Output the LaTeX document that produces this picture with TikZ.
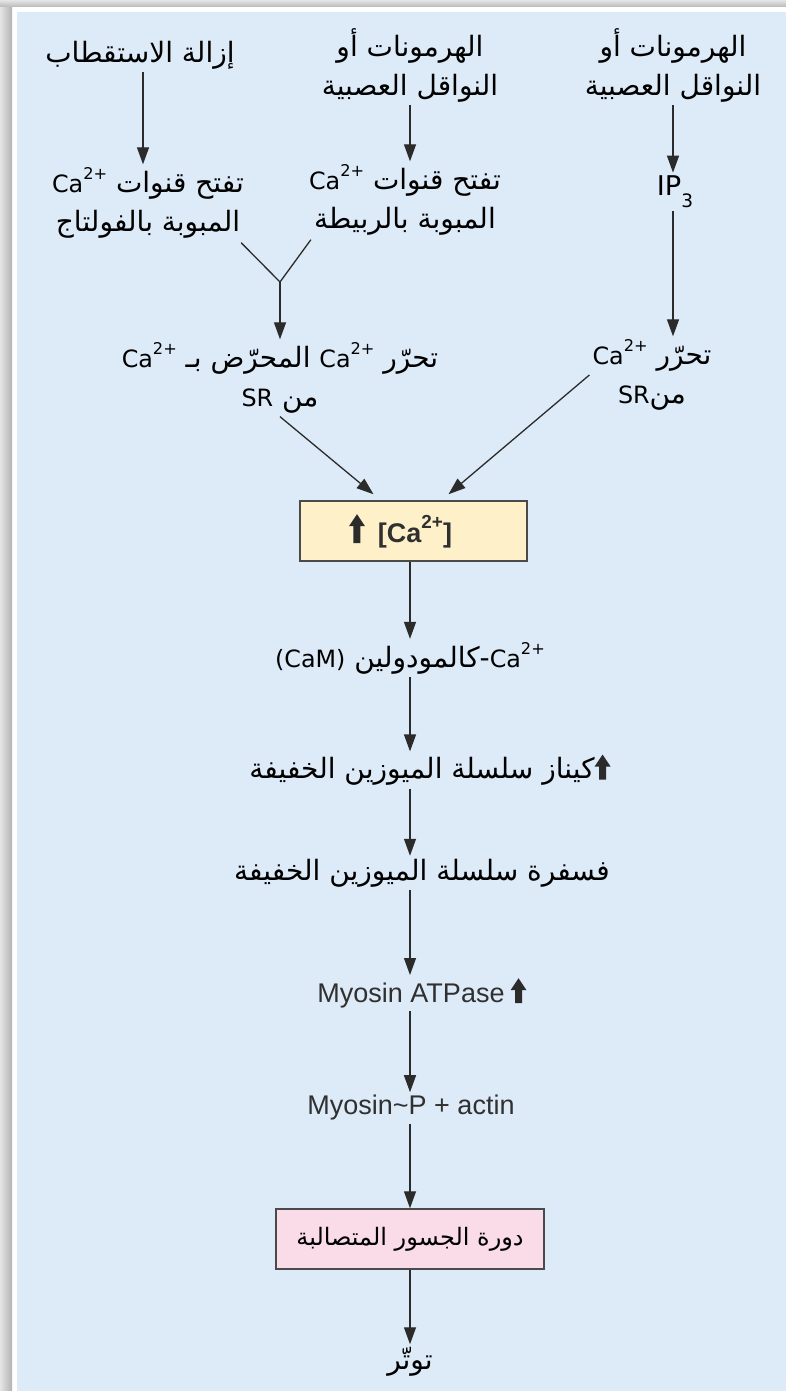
\documentclass[tikz,border=0pt]{standalone}
\usepackage{fontspec}
\usepackage{graphicx}
\setmainfont{Liberation Sans}
\newfontfamily\arabicfont[Script=Arabic]{DejaVu Sans}
\newfontfamily\latinfont[Scale=0.85]{DejaVu Sans}
\TeXXeTstate=1
\usetikzlibrary{arrows.meta,calc}

\definecolor{bgblue}{HTML}{DDEAF7}
\definecolor{ybox}{HTML}{FEF0C8}
\definecolor{pbox}{HTML}{F9DCE8}
\definecolor{edge}{HTML}{4A4A4A}
\definecolor{ink}{HTML}{2B2B2B}
\definecolor{latink}{HTML}{303030}

% thick upward arrow glyph
\newcommand\upa[1]{\tikz[baseline=0pt,x=1pt,y=1pt]\fill[ink]
  (-3.5,-1)--(3.5,-1)--(3.5,#1-12)--(8,#1-12)--(0,#1)--(-8,#1-12)--(-3.5,#1-12)--cycle;}
% Ca with superscript charge, Latin face
\newcommand\cat{{\latinfont Ca\raisebox{0.55em}{\scalebox{0.68}{2+}}}}
\newcommand\Lat[1]{\beginL{\latinfont #1}\endL}

\tikzset{
  ar/.style={font=\arabicfont\fontsize{28}{39}\selectfont, align=center,
    inner sep=3pt, text=black},
  lat/.style={font=\fontsize{27}{32}\selectfont, text=latink, inner sep=3pt},
  flow/.style={draw=ink, line width=1.3pt, -{Triangle[width=12pt,length=17pt]}},
  link/.style={draw=ink, line width=1.3pt},
  box/.style={draw=edge, line width=1.5pt, minimum height=60pt, inner sep=0pt}
}

\begin{document}
\begin{tikzpicture}[x=1pt,y=-1pt]
\useasboundingbox (0,0) rectangle (786,1391);
% frame
\fill[white] (0,0) rectangle (790,1395);
\shade[left color=gray!20, right color=gray!60] (0,0) rectangle (12,1395);
\shade[top color=gray!20, bottom color=gray!55] (0,0) rectangle (790,7);
\fill[bgblue] (17,12) rectangle (790,1395);

\coordinate (axis) at (410,0);

% top row
\node[ar] (L1) at (140,55) {\beginR إزالة الاستقطاب\endR};
\node[ar] (M1) at (410,65) {\beginR الهرمونات أو\endR\\\beginR النواقل العصبية\endR};
\node[ar] (R1) at (673,65) {\beginR الهرمونات أو\endR\\\beginR النواقل العصبية\endR};

% second row
\node[ar] (L2) at (148,203) {\beginR تفتح قنوات \Lat{\cat}\endR\\\beginR المبوبة بالفولتاج\endR};
\node[ar] (M2) at (405,200) {\beginR تفتح قنوات \Lat{\cat}\endR\\\beginR المبوبة بالربيطة\endR};
\node[ar, font=\latinfont\fontsize{32}{40}\selectfont] (R2) at (675,192)
  {IP\raisebox{-0.45em}{\scalebox{0.68}{3}}};

\coordinate (J) at (280,282);

% release row
\node[ar] (M3) at (280,378) {\beginR تحرّر \Lat{\cat} المحرّض بـ \Lat{\cat}\endR\\\beginR من \Lat{SR}\endR};
\node[ar] (R3) at (652,375) {\beginR تحرّر \Lat{\cat}\endR\\\beginR من\Lat{SR}\endR};

% calcium box
\node[box, fill=ybox, minimum width=227pt, font=\bfseries\fontsize{27}{32}\selectfont, text=latink]
  (ca) at (413.5,531) {\upa{28}\hspace{13pt}[Ca\raisebox{0.5em}{\scalebox{0.7}{2+}}]\hspace*{26pt}\mbox{}};

% main chain
\node[ar] (cam) at (410,658) {\beginR \Lat{\cat}-كالمودولين \Lat{(CaM)}\endR};
\node[ar] (kin) at (430,770) {\beginR كيناز سلسلة الميوزين الخفيفة\endR\upa{24}};
\node[ar] (pho) at (422,873) {\beginR فسفرة سلسلة الميوزين الخفيفة\endR};
\node[lat] (myo) at (422,993) {Myosin ATPase\hspace{6pt}\upa{24}};
\node[lat] (act) at (411,1108) {Myosin\textasciitilde P + actin};
\node[box, fill=pbox, minimum width=268pt, font=\arabicfont\fontsize{24}{30}\selectfont]
  (xb) at (410,1239) {\beginR دورة الجسور المتصالبة\endR};
\node[ar] (ten) at (410,1362) {\beginR توتّر\endR};

% connectors
\draw[flow] (L1.south -| 143,0) -- (L2.north -| 143,0);
\draw[flow] (M1.south -| axis) -- (M2.north -| axis);
\draw[flow] (R1.south) -- (R2.north -| R1.south);
\draw[link] ($(L2.south east)+(-6,1)$) -- (J);
\draw[link] ($(M2.south west)+(5,1)$) -- (J);
\draw[flow] (J) -- (J |- M3.north);
\draw[flow] (R2.south -| R1.south) -- (R1.south |- R3.north);
\draw[flow] (M3.south) -- ($(ca.north)+(-40,-6)$);
\draw[flow] (R3.west) -- ($(ca.north)+(35,-6)$);
\draw[flow] (ca.south -| axis) -- (cam.north -| axis);
\draw[flow] (cam.south -| axis) -- (kin.north -| axis);
\draw[flow] (kin.south -| axis) -- (pho.north -| axis);
\draw[flow] (pho.south -| axis) -- (myo.north -| axis);
\draw[flow] (myo.south -| axis) -- (act.north -| axis);
\draw[flow] (act.south -| axis) -- (xb.north -| axis);
\draw[flow] (xb.south -| axis) -- (ten.north -| axis);
\end{tikzpicture}
\end{document}
